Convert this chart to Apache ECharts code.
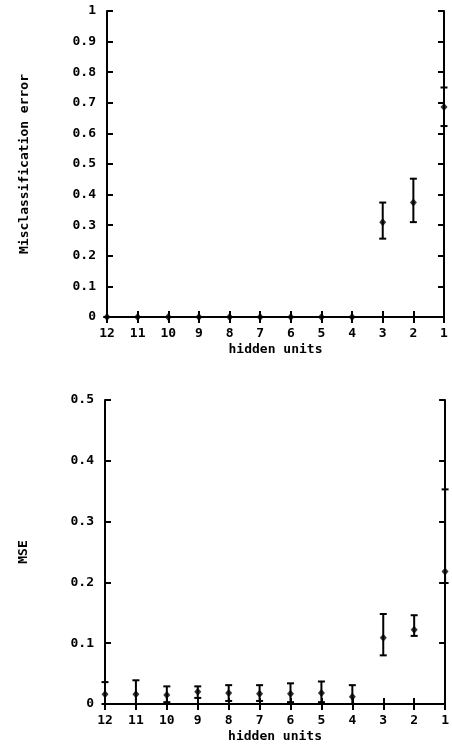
<!DOCTYPE html>
<html><head><meta charset="utf-8">
<script src="https://cdn.jsdelivr.net/npm/echarts@6/dist/echarts.min.js"></script>
<style>html,body{margin:0;padding:0;background:#fff}#c{width:452px;height:744px}</style>
</head><body><div id="c"></div>
<script>
const hiddenUnits = [12, 11, 10, 9, 8, 7, 6, 5, 4, 3, 2, 1];
const misMean = [0, 0, 0, 0, 0, 0, 0, 0, 0, 0.31, 0.374, 0.686];
const misLow  = [0, 0, 0, 0, 0, 0, 0, 0, 0, 0.256, 0.31, 0.624];
const misHigh = [0, 0, 0, 0, 0, 0, 0, 0, 0, 0.374, 0.452, 0.75];
const mseMean = [0.016, 0.016, 0.015, 0.020, 0.018, 0.017, 0.017, 0.018, 0.012, 0.109, 0.122, 0.218];
const mseLow  = [0.0, 0.0, 0.003, 0.01, 0.005, 0.005, 0.003, 0.003, 0.0, 0.080, 0.112, 0.199];
const mseHigh = [0.036, 0.039, 0.029, 0.029, 0.031, 0.031, 0.034, 0.037, 0.031, 0.148, 0.146, 0.353];
const misTicks = [0, 0.1, 0.2, 0.3, 0.4, 0.5, 0.6, 0.7, 0.8, 0.9, 1];
const mseTicks = [0, 0.1, 0.2, 0.3, 0.4, 0.5];

const FONT = 'DejaVu Sans Mono';
const chart = echarts.init(document.getElementById('c'), null, {renderer: 'canvas'});
const lbl = {fontFamily: FONT, fontWeight: 'bold', fontSize: 13, color: '#000'};
function fmt(v){ return v === 0 ? '0' : (v === 1 ? '1' : v.toFixed(1)); }

function xAxes(gi) {
  return [
    {type: 'value', gridIndex: gi, min: 1, max: 12, interval: 1, inverse: true, position: 'bottom',
     name: 'hidden units', nameLocation: 'middle', nameGap: 26, nameTextStyle: lbl,
     axisLine: {lineStyle: {color: '#000', width: 2}}, axisTick: {inside: true, length: 6, lineStyle: {color: '#000', width: 2}},
     axisLabel: Object.assign({margin: 10}, lbl), splitLine: {show: false}},
    {type: 'value', gridIndex: gi, min: 1, max: 12, interval: 1, inverse: true, position: 'top',
     axisLine: {lineStyle: {color: '#000', width: 2}}, axisTick: {inside: true, length: 6, lineStyle: {color: '#000', width: 2}},
     axisLabel: {show: false}, splitLine: {show: false}}
  ];
}
function yAxes(gi, ticks, name, gap) {
  const max = ticks[ticks.length - 1];
  return [
    {type: 'value', gridIndex: gi, min: 0, max: max, interval: 0.1, position: 'left',
     name: name, nameLocation: 'middle', nameGap: gap, nameRotate: 90, nameTextStyle: lbl,
     axisLine: {show: true, lineStyle: {color: '#000', width: 2}}, axisTick: {show: true, inside: true, length: 6, lineStyle: {color: '#000', width: 2}},
     axisLabel: Object.assign({margin: 11, formatter: fmt}, lbl), splitLine: {show: false}},
    {type: 'value', gridIndex: gi, min: 0, max: max, interval: 0.1, position: 'right',
     axisLine: {show: true, lineStyle: {color: '#000', width: 2}}, axisTick: {show: true, inside: true, length: 6, lineStyle: {color: '#000', width: 2}},
     axisLabel: {show: false}, splitLine: {show: false}}
  ];
}

function errSeries(xi, yi, low, high) {
  return {
    type: 'custom', xAxisIndex: xi, yAxisIndex: yi,
    data: hiddenUnits.map((h, i) => [h, low[i], high[i]]),
    renderItem: function (params, api) {
      const lo = api.coord([api.value(0), api.value(1)]);
      const hi = api.coord([api.value(0), api.value(2)]);
      const w = 3.5;
      const st = {stroke: '#000', lineWidth: 2};
      return {type: 'group', children: [
        {type: 'line', shape: {x1: lo[0], y1: lo[1], x2: hi[0], y2: hi[1]}, style: st},
        {type: 'line', shape: {x1: hi[0] - w, y1: hi[1], x2: hi[0] + w, y2: hi[1]}, style: st},
        {type: 'line', shape: {x1: lo[0] - w, y1: lo[1], x2: lo[0] + w, y2: lo[1]}, style: st}
      ]};
    },
    z: 3
  };
}
function ptSeries(xi, yi, mean) {
  return {type: 'scatter', xAxisIndex: xi, yAxisIndex: yi, symbol: 'diamond', symbolSize: [7, 8],
    itemStyle: {color: '#000'}, data: hiddenUnits.map((h, i) => [h, mean[i]]), z: 4};
}

chart.setOption({
  animation: false,
  backgroundColor: '#fff',
  grid: [
    {left: 107, right: 8, top: 11, height: 306},
    {left: 105, right: 5, top: 400, height: 306}
  ],
  xAxis: xAxes(0).concat(xAxes(1)),
  yAxis: yAxes(0, misTicks, 'Misclassification error', 76).concat(yAxes(1, mseTicks, 'MSE', 75)),
  series: [
    errSeries(0, 0, misLow, misHigh), ptSeries(0, 0, misMean),
    errSeries(2, 2, mseLow, mseHigh), ptSeries(2, 2, mseMean)
  ]
});
</script></body></html>
